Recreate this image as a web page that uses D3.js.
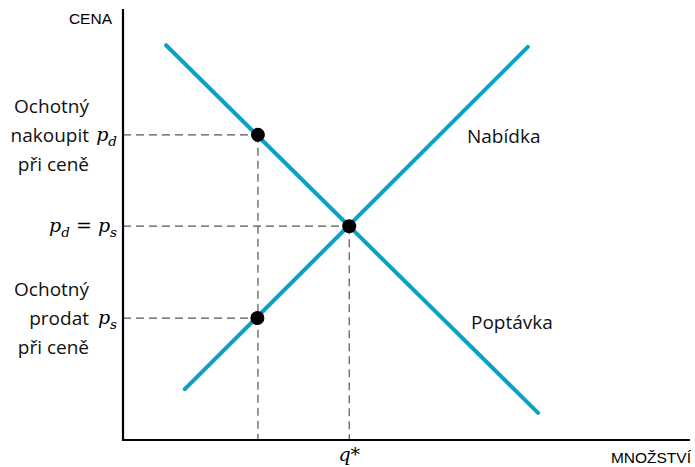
<html>
<head>
<meta charset="UTF-8">
<script src="https://d3js.org/d3.v7.min.js"></script>
<style>
  body { margin: 0; background: #fff; }
  text { font-family: "Open Sans", "Noto Sans", sans-serif; }
</style>
</head>
<body>
<svg id="chart" width="695" height="467"></svg>
<script>
// abstract units: quantity and price both on 0..100
const demandLine = [[7.6, 91.6], [73.2, 6.3]];
const supplyLine = [[10.9, 11.8], [71.4, 91.2]];
const points = [[23.8, 70.8], [39.9, 49.6], [23.7, 28.3]];
const priceLevels = [70.8, 49.6, 28.3];
const qtyLevels = [23.8, 39.9];

const chart = d3.select('#chart');
const x = d3.scaleLinear().domain([0, 100]).range([123, 690]);
const y = d3.scaleLinear().domain([0, 100]).range([440, 9]);

const blue = '#0aa1c9';

// dashed guides
const guides = chart.append('g')
  .attr('stroke', '#555')
  .attr('stroke-width', 1.2)
  .attr('stroke-dasharray', '8,5');

guides.selectAll('line.h').data(points)
  .join('line')
  .attr('class', 'h')
  .attr('x1', x(0)).attr('x2', d => x(d[0]))
  .attr('y1', d => y(d[1])).attr('y2', d => y(d[1]));

guides.selectAll('line.v').data(qtyLevels)
  .join('line')
  .attr('class', 'v')
  .attr('x1', d => x(d)).attr('x2', d => x(d))
  .attr('y1', d => y(d3.max(points.filter(p => Math.abs(p[0] - d) < 1), p => p[1])))
  .attr('y2', y(0));

// curves
const lineGen = d3.line().x(d => x(d[0])).y(d => y(d[1]));
chart.selectAll('path.curve').data([demandLine, supplyLine])
  .join('path')
  .attr('class', 'curve')
  .attr('d', lineGen)
  .attr('fill', 'none')
  .attr('stroke', blue)
  .attr('stroke-width', 4)
  .attr('stroke-linecap', 'round');

// axes
chart.append('line')
  .attr('x1', x(0)).attr('x2', x(0))
  .attr('y1', y(100)).attr('y2', y(0) + 1)
  .attr('stroke', '#000').attr('stroke-width', 2.2);
chart.append('line')
  .attr('x1', x(0) - 1).attr('x2', x(100))
  .attr('y1', y(0)).attr('y2', y(0))
  .attr('stroke', '#000').attr('stroke-width', 2.2);

// points
chart.selectAll('circle').data(points)
  .join('circle')
  .attr('cx', d => x(d[0]))
  .attr('cy', d => y(d[1]))
  .attr('r', 7)
  .attr('fill', '#000');

// axis titles
chart.append('text').attr('x', 112).attr('y', 24)
  .attr('text-anchor', 'end')
  .style('font-family', 'Arial, "Liberation Sans", sans-serif')
  .style('font-size', '15.5px').text('CENA');
chart.append('text').attr('x', 691).attr('y', 463)
  .attr('text-anchor', 'end')
  .style('font-family', 'Arial, "Liberation Sans", sans-serif')
  .style('font-size', '15.5px').text('MNOŽSTVÍ');

// price tick labels (italic math)
function mathText(yv) {
  return chart.append('text').attr('x', 117).attr('y', y(yv) + 6)
    .attr('text-anchor', 'end').style('font-style', 'italic')
    .style('font-family', '"DejaVu Serif", "Liberation Serif", serif')
    .style('font-size', '19px');
}
function sub(sel, base, s) {
  sel.append('tspan').text(base);
  sel.append('tspan').attr('dy', 5).style('font-size', '13.5px').text(s);
}
const t1 = mathText(priceLevels[0]);
sub(t1, 'p', 'd');

const t2 = mathText(priceLevels[1]);
sub(t2, 'p', 'd');
t2.append('tspan').attr('dy', -5).style('font-style', 'normal').text(' = ');
sub(t2, 'p', 's');

const t3 = mathText(priceLevels[2]);
sub(t3, 'p', 's');

chart.append('text').attr('x', x(qtyLevels[1])).attr('y', 461)
  .attr('text-anchor', 'middle').style('font-style', 'italic')
  .style('font-family', '"DejaVu Serif", "Liberation Serif", serif').style('font-size', '19px')
  .text('q*');

// side labels
const sideLabels = [
  {lines: ['Ochotný', 'nakoupit', 'při ceně'], level: priceLevels[0]},
  {lines: ['Ochotný', 'prodat', 'při ceně'], level: priceLevels[2]}
];
sideLabels.forEach(s => {
  s.lines.forEach((l, i) => {
    chart.append('text')
      .attr('x', 89)
      .attr('y', y(s.level) + (i - 1) * 29 + 7)
      .attr('text-anchor', 'end')
      .style('font-size', '19px')
      .attr('fill', '#111')
      .text(l);
  });
});

// curve labels
chart.append('text').attr('x', 467).attr('y', 143)
  .style('font-size', '19px').attr('fill', '#111').text('Nabídka');
chart.append('text').attr('x', 471).attr('y', 329)
  .style('font-size', '19px').attr('fill', '#111').text('Poptávka');
</script>
</body>
</html>
